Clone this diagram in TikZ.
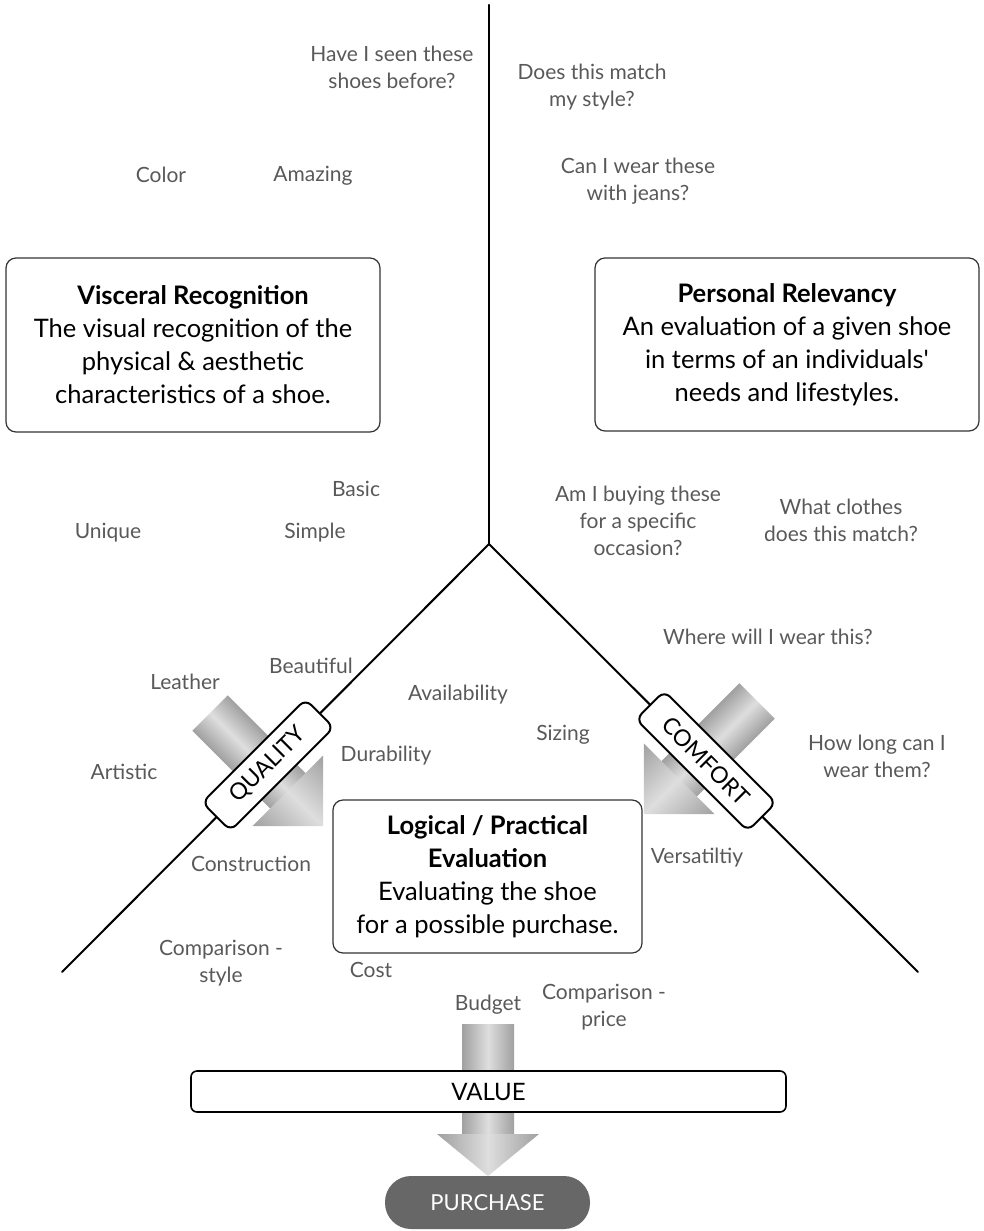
\documentclass[tikz,border=0pt]{standalone}
\usepackage{fontspec}
\setmainfont{Lato}
\definecolor{labelgray}{HTML}{595959}
\definecolor{boxgray}{HTML}{333333}
\definecolor{ag1}{HTML}{A0A0A0}
\definecolor{ag2}{HTML}{DEDEDE}
\definecolor{pill}{HTML}{676767}
\tikzset{
  lbl/.style={text=labelgray, font=\fontsize{21}{27}\selectfont, align=center, inner sep=0pt},
  bigbox/.style={draw=boxgray, line width=1.2pt, rounded corners=10pt, fill=white, align=center, font=\fontsize{25.5}{33}\selectfont, inner sep=0pt},
  diag/.style={line width=2pt, line cap=round},
  tagbox/.style={draw=black, line width=2pt, rounded corners=8pt, fill=white, minimum height=40pt, inner sep=0pt, font=\fontsize{23}{23}\selectfont},
  vshade/.style={top color=ag1, bottom color=ag1, middle color=ag2},
  hshade/.style={left color=ag1, right color=ag1, middle color=ag2},
}
\begin{document}
\begin{tikzpicture}[x=1pt,y=-1pt]
\useasboundingbox (0,0) rectangle (983,1231);

% fat gradient arrows
\begin{scope}[transform canvas={xshift=210pt,yshift=-713pt,rotate=-45}]
  \shade[vshade] (0,-25) rectangle (112,25);
  \shade[vshade] (110,-50) -- (110,50) -- (160,0) -- cycle;
\end{scope}
\begin{scope}[transform canvas={xshift=757pt,yshift=-701pt,rotate=-135}]
  \shade[vshade] (0,-25) rectangle (112,25);
  \shade[vshade] (110,-50) -- (110,50) -- (160,0) -- cycle;
\end{scope}
\shade[hshade] (462,1024) rectangle (514,1136);
\shade[hshade] (437,1134) -- (539,1134) -- (488,1176) -- cycle;

% main lines
\coordinate (top) at (489,5);
\coordinate (junc) at (489,544);
\coordinate (lend) at (62,972);
\coordinate (rend) at (918,972);
\draw[diag, line width=2.4pt] (top) -- (junc);
\draw[diag] (junc) -- (lend);
\draw[diag] (junc) -- (rend);

% tags on the lines
\node[tagbox, minimum width=146pt, rotate=45] (quality) at (268,765) {QUALITY};
\node[tagbox, minimum width=158pt, rotate=-45] (comfort) at (706,761) {COMFORT};

% boxes
\node[bigbox, minimum width=374pt, minimum height=174pt] (visceral) at (193,345)
  {\textbf{Visceral Recognition}\\The visual recognition of the\\physical \& aesthetic\\characteristics of a shoe.};
\node[bigbox, minimum width=384pt, minimum height=173pt] (personal) at (787,344.5)
  {\textbf{Personal Relevancy}\\An evaluation of a given shoe\\in terms of an individuals\textquotesingle\\needs and lifestyles.};
\node[bigbox, minimum width=309pt, minimum height=153pt] (logical) at (487.5,876.5)
  {\textbf{Logical / Practical}\\\textbf{Evaluation}\\Evaluating the shoe\\for a possible purchase.};
\node[draw=black, line width=1.6pt, rounded corners=6pt, fill=white, minimum width=595pt, minimum height=41pt, inner sep=0pt, font=\fontsize{24}{24}\selectfont] (value) at (488.5,1091.5) {VALUE};
\node[fill=pill, rounded corners=26pt, minimum width=205pt, minimum height=53pt, inner sep=0pt, text=white, font=\fontsize{22}{22}\selectfont] (purchase) at (487.5,1202.5) {PURCHASE};

% labels
\node[lbl] (l1) at (392,67.5) {Have I seen these\\shoes before?};
\node[lbl] (l2) at (592,87.5) {Does this match\\my style?};
\node[lbl] (l3) at (161,175) {Color};
\node[lbl] (l4) at (313,176) {Amazing};
\node[lbl] (l5) at (638,181) {Can I wear these\\with jeans?};
\node[lbl] (l6) at (356,489) {Basic};
\node[lbl] (l7) at (108,533) {Unique};
\node[lbl] (l8) at (315,533) {Simple};
\node[lbl] (l9) at (638,521) {Am I buying these\\for a specific\\occasion?};
\node[lbl] (l10) at (841,520.5) {What clothes\\does this match?};
\node[lbl] (l11) at (768,637) {Where will I wear this?};
\node[lbl] (l12) at (185,682) {Leather};
\node[lbl] (l13) at (311,666) {Beautiful};
\node[lbl] (l14) at (458,695) {Availability};
\node[lbl] (l15) at (563,735) {Sizing};
\node[lbl] (l16) at (386,756) {Durability};
\node[lbl] (l17) at (124,772) {Artistic};
\node[lbl] (l18) at (877,756.5) {How long can I\\wear them?};
\node[lbl] (l19) at (251,864) {Construction};
\node[lbl] (l20) at (697,858) {Versatiltiy};
\node[lbl] (l21) at (221,963.5) {Comparison -\\style};
\node[lbl] (l22) at (371,970) {Cost};
\node[lbl] (l23) at (488,1005) {Budget};
\node[lbl] (l24) at (604,1007.5) {Comparison -\\price};
\end{tikzpicture}
\end{document}
